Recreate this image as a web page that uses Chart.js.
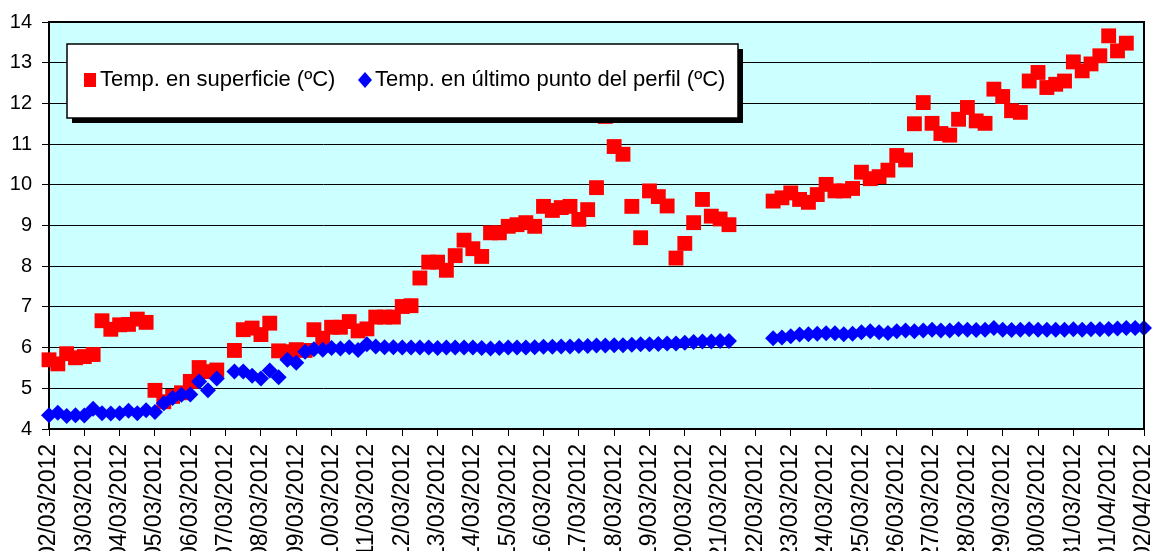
<!DOCTYPE html>
<html>
<head>
<meta charset="utf-8">
<script src="https://cdn.jsdelivr.net/npm/chart.js@4.4.1/dist/chart.umd.min.js"></script>
<style>
  html, body { margin: 0; padding: 0; background: #fff; overflow: hidden; }
  #wrap { width: 1155px; height: 551px; position: relative; }
</style>
</head>
<body>
<div id="wrap"><canvas id="chart"></canvas></div>
<script>
  // tick labels, one per day
  const DAYS = [
    '02/03/2012', '03/03/2012', '04/03/2012', '05/03/2012', '06/03/2012', '07/03/2012',
    '08/03/2012', '09/03/2012', '10/03/2012', '11/03/2012', '12/03/2012', '13/03/2012',
    '14/03/2012', '15/03/2012', '16/03/2012', '17/03/2012', '18/03/2012', '19/03/2012',
    '20/03/2012', '21/03/2012', '22/03/2012', '23/03/2012', '24/03/2012', '25/03/2012',
    '26/03/2012', '27/03/2012', '28/03/2012', '29/03/2012', '30/03/2012', '31/03/2012',
    '01/04/2012', '02/04/2012'
  ];
  // readings every 6 h
  const HOURS = ['00:00', '06:00', '12:00', '18:00'];

  const SURFACE_LABEL = 'Temp. en superficie (ºC)';
  const BOTTOM_LABEL = 'Temp. en último punto del perfil (ºC)';

  const surface = [
    5.70, 5.60, 5.85, 5.75, 5.78, 5.83, 6.66, 6.45, 6.56, 6.57, 6.70, 6.62,
    4.95, 4.67, 4.80, 4.89, 5.17, 5.51, 5.41, 5.45, null, 5.93, 6.44, 6.48,
    6.32, 6.60, 5.92, 5.90, 5.95, 5.93, 6.44, 6.23, 6.50, 6.50, 6.64, 6.41,
    6.46, 6.75, 6.75, 6.75, 7.01, 7.03, 7.71, 8.10, 8.10, 7.90, 8.26, 8.64,
    8.43, 8.24, 8.82, 8.82, 8.98, 9.02, 9.07, 8.98, 9.47, 9.37, 9.44, 9.47,
    9.15, 9.39, 9.93, 11.68, 10.94, 10.75, 9.47, 8.70, 9.85, 9.71, 9.48, 8.20,
    8.56, 9.07, 9.64, 9.23, 9.16, 9.02, null, null, null, null, 9.60, 9.68,
    9.80, 9.64, 9.57, 9.76, 10.01, 9.85, 9.85, 9.91, 10.31, 10.15, 10.20, 10.36,
    10.72, 10.61, 11.50, 12.02, 11.51, 11.26, 11.22, 11.61, 11.90, 11.57, 11.51, 12.35,
    12.17, 11.82, 11.78, 12.55, 12.76, 12.39, 12.47, 12.55, 13.02, 12.80, 12.97, 13.17,
    13.66, 13.29, 13.48, null, null
  ];

  const bottom = [
    4.34, 4.40, 4.32, 4.34, 4.33, 4.50, 4.39, 4.38, 4.39, 4.45, 4.39, 4.46,
    4.42, 4.63, 4.76, 4.84, 4.85, 5.17, 4.95, 5.24, null, 5.41, 5.41, 5.31,
    5.24, 5.44, 5.27, 5.70, 5.63, 5.90, 5.96, 5.95, 5.99, 5.98, 6.01, 5.94,
    6.08, 6.03, 6.01, 6.01, 6.00, 6.00, 6.00, 6.00, 5.99, 6.00, 6.00, 6.00,
    6.00, 5.99, 5.98, 5.99, 6.00, 6.00, 6.00, 6.01, 6.02, 6.02, 6.03, 6.03,
    6.04, 6.04, 6.05, 6.05, 6.06, 6.06, 6.07, 6.08, 6.08, 6.09, 6.10, 6.10,
    6.12, 6.14, 6.15, 6.15, 6.16, 6.16, null, null, null, null, 6.23, 6.25,
    6.28, 6.32, 6.33, 6.34, 6.35, 6.35, 6.33, 6.34, 6.38, 6.40, 6.38, 6.36,
    6.40, 6.42, 6.40, 6.42, 6.44, 6.42, 6.42, 6.45, 6.44, 6.43, 6.44, 6.48,
    6.44, 6.43, 6.44, 6.45, 6.44, 6.44, 6.44, 6.44, 6.45, 6.44, 6.45, 6.45,
    6.46, 6.47, 6.48, 6.48, 6.48
  ];

  // sample labels: 4 per day, last day only at 00:00
  const labels = [];
  DAYS.forEach((d, i) => {
    HOURS.forEach(h => {
      if (i < DAYS.length - 1 || h === HOURS[0]) labels.push(d + ' ' + h);
    });
  });

  const FONT = "'Liberation Sans', Arial, sans-serif";

  // plot background + frame
  const plotFrame = {
    id: 'plotFrame',
    beforeDraw(chart) {
      const { ctx, chartArea: a } = chart;
      ctx.save();
      ctx.fillStyle = '#CCFFFF';
      ctx.fillRect(a.left, a.top, a.right - a.left, a.bottom - a.top);
      ctx.restore();
    },
    afterDraw(chart) {
      const { ctx, chartArea: a } = chart;
      ctx.save();
      ctx.strokeStyle = '#000';
      ctx.lineWidth = 2;
      ctx.beginPath();
      ctx.moveTo(a.left, a.top);
      ctx.lineTo(a.right, a.top);
      ctx.lineTo(a.right, a.bottom);
      ctx.stroke();
      ctx.restore();
    }
  };

  // Excel style boxed legend with a drop shadow
  const boxLegend = {
    id: 'boxLegend',
    afterDraw(chart) {
      const { ctx } = chart;
      const ds = chart.data.datasets;
      const x = 67, y = 44, w = 671, h = 74;
      ctx.save();
      ctx.fillStyle = '#000';
      ctx.fillRect(x + 5, y + 5, w, h);
      ctx.fillStyle = '#fff';
      ctx.fillRect(x, y, w, h);
      ctx.strokeStyle = '#000';
      ctx.lineWidth = 1.5;
      ctx.strokeRect(x, y, w, h);

      ctx.font = '22px ' + FONT;
      ctx.textBaseline = 'middle';
      ctx.fillStyle = '#000';
      const cy = 80;

      // surface (square)
      ctx.fillStyle = ds[1].backgroundColor;
      ctx.fillRect(84, cy - 7, 12, 14);
      ctx.fillStyle = '#000';
      ctx.fillText(ds[1].label, 100, cy);

      // bottom (diamond)
      ctx.fillStyle = ds[0].backgroundColor;
      ctx.beginPath();
      ctx.moveTo(365, cy - 8);
      ctx.lineTo(372, cy);
      ctx.lineTo(365, cy + 8);
      ctx.lineTo(358, cy);
      ctx.closePath();
      ctx.fill();
      ctx.fillStyle = '#000';
      ctx.fillText(ds[0].label, 375, cy);
      ctx.restore();
    }
  };

  new Chart(document.getElementById('chart'), {
    type: 'line',
    plugins: [plotFrame, boxLegend],
    data: {
      labels: labels,
      datasets: [
        {
          label: BOTTOM_LABEL,
          data: bottom,
          showLine: false,
          pointStyle: 'rectRot',
          pointRadius: 8,
          backgroundColor: '#0000FF',
          borderColor: '#0000FF',
          borderWidth: 0,
          clip: false
        },
        {
          label: SURFACE_LABEL,
          data: surface,
          showLine: false,
          pointStyle: 'rect',
          pointRadius: 10.5,
          backgroundColor: '#FF0000',
          borderColor: '#FF0000',
          borderWidth: 0,
          clip: false
        }
      ]
    },
    options: {
      responsive: true,
      maintainAspectRatio: false,
      animation: false,
      events: [],
      layout: { padding: { top: 21, right: 11, left: 0, bottom: 0 } },
      plugins: {
        legend: { display: false },
        tooltip: { enabled: false }
      },
      scales: {
        x: {
          offset: false,
          afterFit: s => { s.height = 122; s.paddingLeft = 0; s.paddingRight = 0; },
          border: { color: '#000', width: 2 },
          grid: { drawOnChartArea: false, drawTicks: true, tickLength: 7, color: '#000' },
          ticks: {
            autoSkip: false,
            maxRotation: 90,
            minRotation: 90,
            padding: 8,
            color: '#000',
            font: { family: FONT, size: 23 },
            callback: function (v) {
              const l = this.getLabelForValue(v);
              return l.endsWith(HOURS[0]) ? l.slice(0, 10) : null;
            }
          }
        },
        y: {
          min: 4,
          max: 14,
          afterFit: s => { s.width = 49; },
          border: { color: '#000', width: 2 },
          grid: { color: '#000', lineWidth: 1, tickLength: 7 },
          ticks: {
            stepSize: 1,
            padding: 10,
            color: '#000',
            font: { family: FONT, size: 20 }
          }
        }
      }
    }
  });
</script>
</body>
</html>
